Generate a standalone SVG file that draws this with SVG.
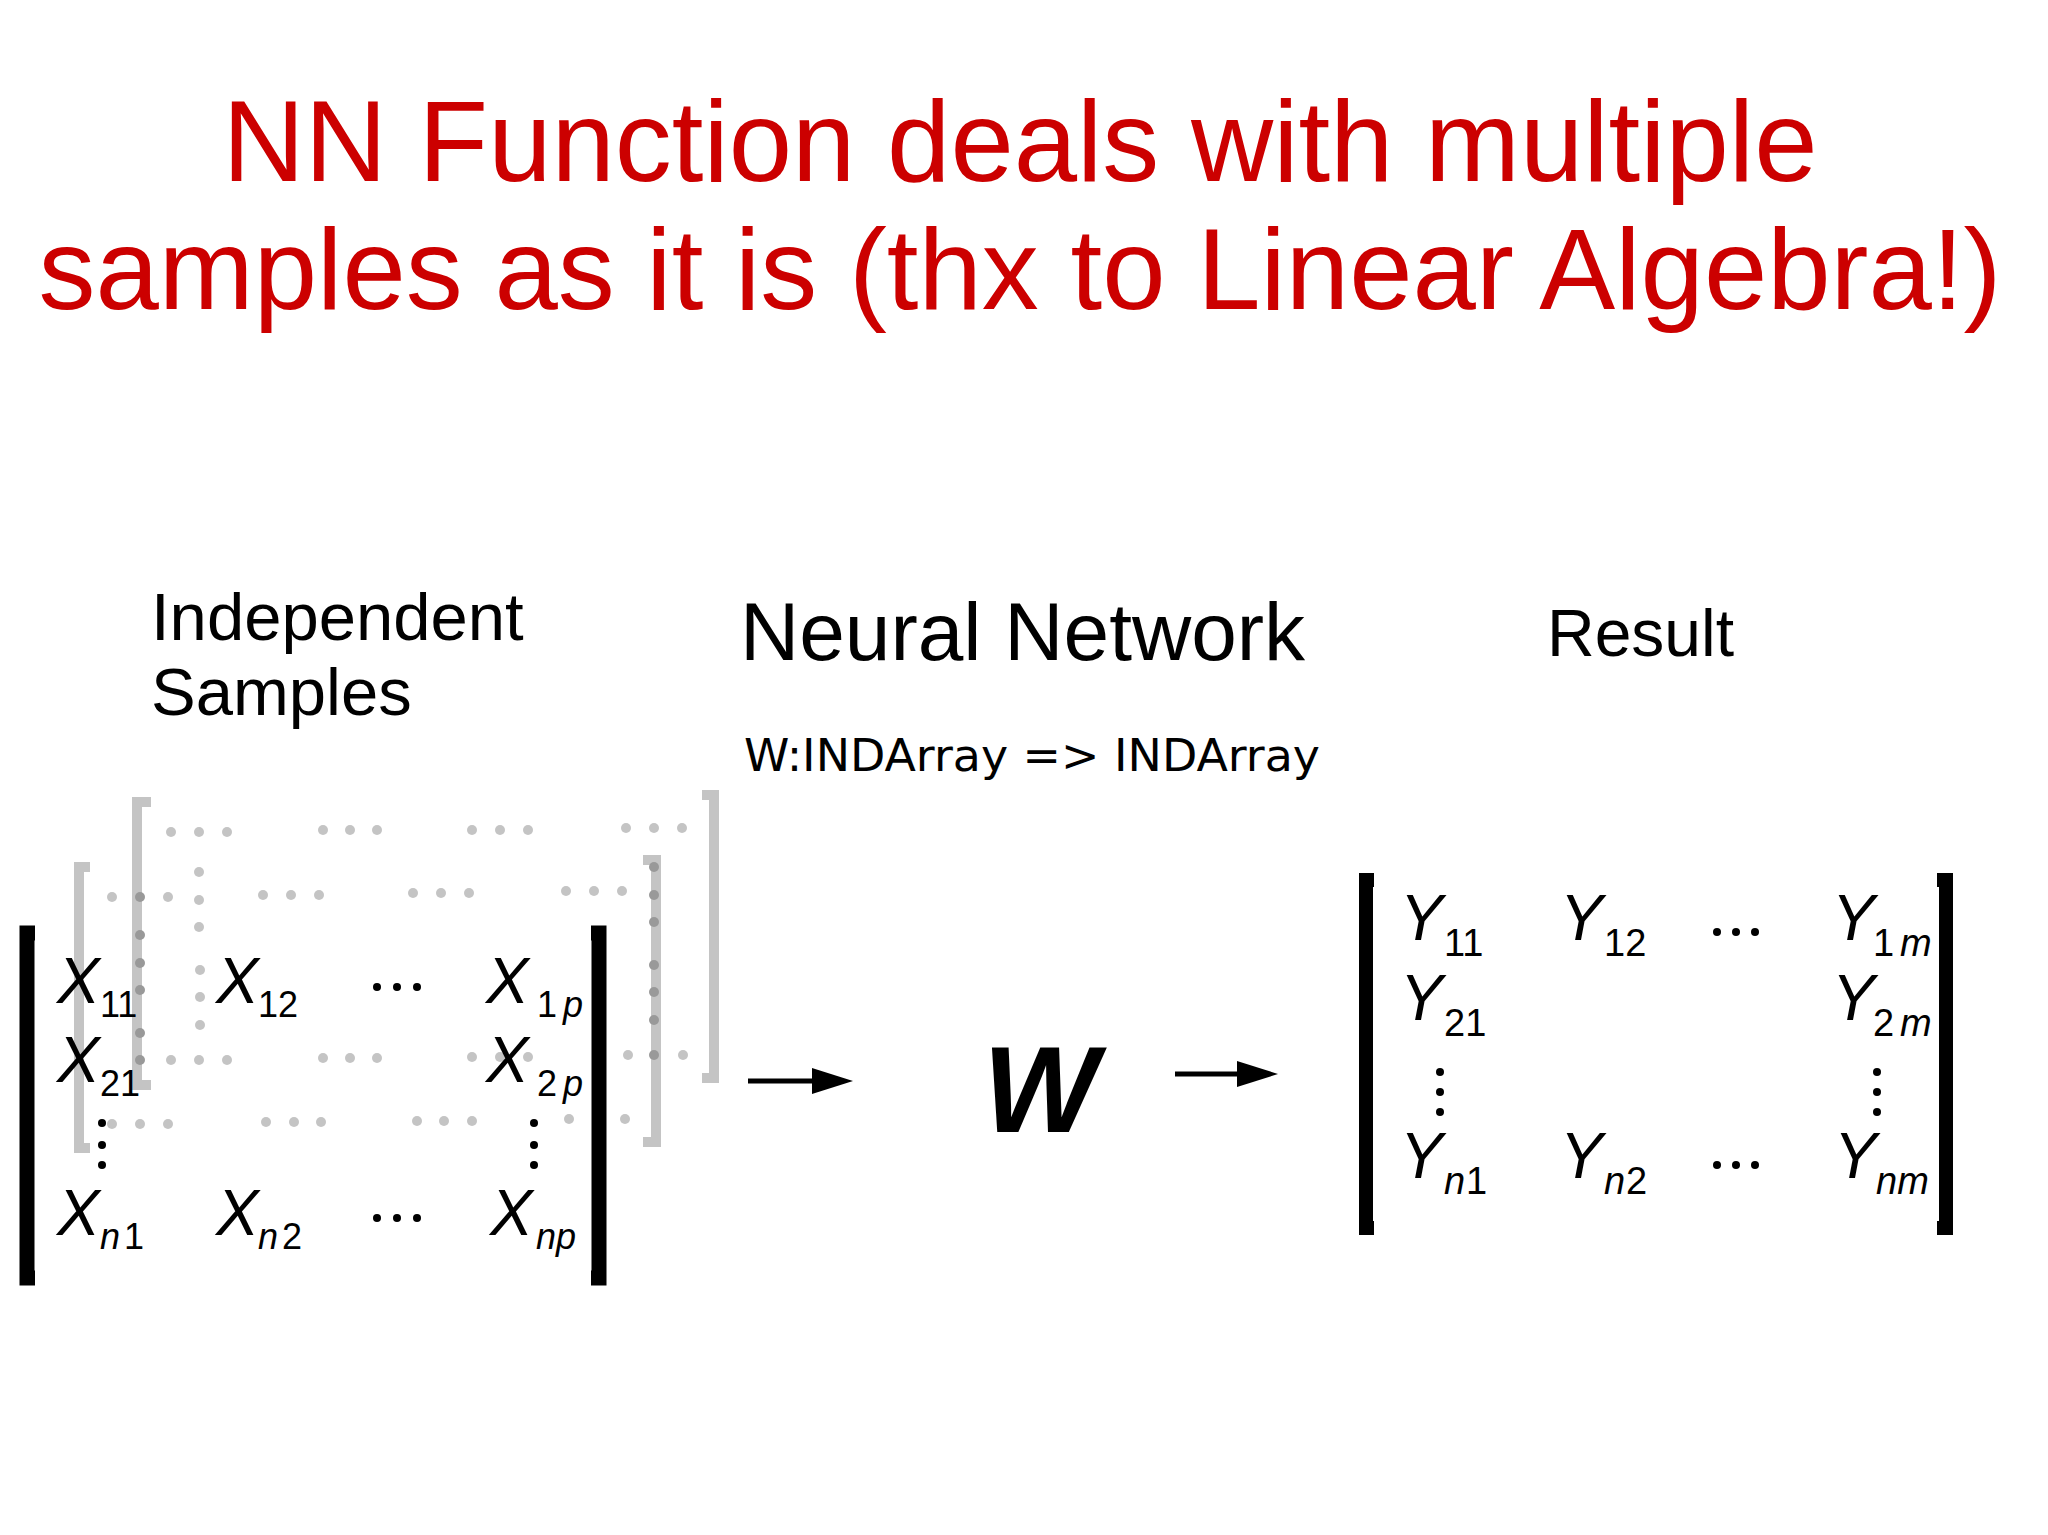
<svg xmlns="http://www.w3.org/2000/svg" width="2048" height="1535" viewBox="0 0 2048 1535">
<style>
.t{font-family:"Liberation Sans",Arial,sans-serif}
.m{font-family:"Liberation Sans",Arial,sans-serif;font-style:italic;font-size:64px}
.s{font-family:"Liberation Sans",Arial,sans-serif;font-size:36px}
.si{font-family:"Liberation Sans",Arial,sans-serif;font-size:36px;font-style:italic}
.my{font-family:"Liberation Sans",Arial,sans-serif;font-style:italic;font-size:64px}
.sy{font-family:"Liberation Sans",Arial,sans-serif;font-size:38px}
.syi{font-family:"Liberation Sans",Arial,sans-serif;font-size:38px;font-style:italic}
.g{fill:#c4c4c4}
.br{fill:none;stroke:#c4c4c4;stroke-width:10}
</style>
<rect width="2048" height="1535" fill="#fff"/>
<g id="title" class="t" fill="#cc0000" font-size="115" text-anchor="middle">
<text x="1020" y="181" textLength="1595" lengthAdjust="spacingAndGlyphs">NN Function deals with multiple</text>
<text x="1020" y="309" textLength="1963" lengthAdjust="spacingAndGlyphs">samples as it is (thx to Linear Algebra!)</text>
</g>
<g id="labels" class="t" fill="#000">
<text x="151" y="640" font-size="67">Independent</text>
<text x="151" y="715" font-size="67">Samples</text>
<text x="740" y="660" font-size="82">Neural Network</text>
<text x="1547" y="656" font-size="66">Result</text>
<text x="744" y="771" font-size="44" font-family="DejaVu Sans,sans-serif" textLength="576" lengthAdjust="spacingAndGlyphs">W:INDArray =&gt; INDArray</text>
</g>
<g id="back-matrices">
<path class="br" d="M151,802 H137 V1085 H151"/>
<path class="br" d="M702,795 H714 V1078 H702"/>
<g class="g">
<circle cx="171" cy="832" r="5"/><circle cx="199" cy="832" r="5"/><circle cx="227" cy="832" r="5"/>
<circle cx="323" cy="830" r="5"/><circle cx="350" cy="830" r="5"/><circle cx="377" cy="830" r="5"/>
<circle cx="472" cy="830" r="5"/><circle cx="500" cy="830" r="5"/><circle cx="528" cy="830" r="5"/>
<circle cx="626" cy="828" r="5"/><circle cx="654" cy="828" r="5"/><circle cx="682" cy="828" r="5"/>
<circle cx="171" cy="1060" r="5"/><circle cx="199" cy="1060" r="5"/><circle cx="227" cy="1060" r="5"/>
<circle cx="323" cy="1058" r="5"/><circle cx="350" cy="1058" r="5"/><circle cx="377" cy="1058" r="5"/>
<circle cx="472" cy="1057" r="5"/><circle cx="500" cy="1057" r="5"/><circle cx="528" cy="1057" r="5"/>
<circle cx="628" cy="1055" r="5"/><circle cx="655" cy="1055" r="5"/><circle cx="683" cy="1055" r="5"/>
<circle cx="199" cy="872" r="5"/><circle cx="199" cy="900" r="5"/><circle cx="199" cy="927" r="5"/>
<circle cx="200" cy="970" r="5"/><circle cx="200" cy="997" r="5"/><circle cx="200" cy="1025" r="5"/>
</g>
<path class="br" d="M90,867 H79 V1148 H90"/>
<path class="br" d="M643,860 H656 V1142 H643"/>
<g class="g">
<circle cx="112" cy="897" r="5"/><circle cx="168" cy="897" r="5"/>
<circle cx="263" cy="895" r="5"/><circle cx="291" cy="895" r="5"/><circle cx="319" cy="895" r="5"/>
<circle cx="413" cy="893" r="5"/><circle cx="441" cy="893" r="5"/><circle cx="469" cy="893" r="5"/>
<circle cx="566" cy="891" r="5"/><circle cx="594" cy="891" r="5"/><circle cx="622" cy="891" r="5"/>
<circle cx="112" cy="1124" r="5"/><circle cx="140" cy="1124" r="5"/><circle cx="168" cy="1124" r="5"/>
<circle cx="266" cy="1122" r="5"/><circle cx="294" cy="1122" r="5"/><circle cx="321" cy="1122" r="5"/>
<circle cx="417" cy="1121" r="5"/><circle cx="444" cy="1121" r="5"/><circle cx="472" cy="1121" r="5"/>
<circle cx="569" cy="1119" r="5"/><circle cx="597" cy="1119" r="5"/><circle cx="625" cy="1119" r="5"/>
</g>
<g fill="#999">
<circle cx="140" cy="897" r="5"/><circle cx="140" cy="935" r="5"/><circle cx="140" cy="963" r="5"/><circle cx="140" cy="990" r="5"/><circle cx="140" cy="1033" r="5"/><circle cx="140" cy="1060" r="5"/>
<circle cx="654" cy="867" r="5"/><circle cx="654" cy="895" r="5"/><circle cx="654" cy="922" r="5"/><circle cx="654" cy="965" r="5"/><circle cx="654" cy="992" r="5"/><circle cx="654" cy="1020" r="5"/><circle cx="654" cy="1055" r="5"/>
</g>
</g>
<g id="matrix-x">
<path d="M35,933 H27 V1278 H35" fill="none" stroke="#000" stroke-width="15"/>
<path d="M591,933 H599 V1278 H591" fill="none" stroke="#000" stroke-width="15"/>
<text class="m" x="57" y="1003">X</text><text class="s" x="100" y="1017">11</text>
<text class="m" x="216" y="1003">X</text><text class="s" x="258" y="1017">12</text>
<text class="m" x="486" y="1003">X</text><text class="s" x="537" y="1017">1</text><text class="si" x="563" y="1017">p</text>
<text class="m" x="57" y="1082">X</text><text class="s" x="100" y="1096">21</text>
<text class="m" x="486" y="1082">X</text><text class="s" x="537" y="1096">2</text><text class="si" x="563" y="1096">p</text>
<text class="m" x="57" y="1235">X</text><text class="si" x="100" y="1249">n</text><text class="s" x="124" y="1249">1</text>
<text class="m" x="216" y="1235">X</text><text class="si" x="258" y="1249">n</text><text class="s" x="282" y="1249">2</text>
<text class="m" x="490" y="1235">X</text><text class="si" x="536" y="1249">np</text>
<g fill="#000">
<circle cx="377" cy="987" r="4"/><circle cx="397" cy="987" r="4"/><circle cx="417" cy="987" r="4"/>
<circle cx="377" cy="1218" r="4"/><circle cx="397" cy="1218" r="4"/><circle cx="417" cy="1218" r="4"/>
<circle cx="102" cy="1123" r="4"/><circle cx="102" cy="1145" r="4"/><circle cx="102" cy="1165" r="4"/>
<circle cx="534" cy="1123" r="4"/><circle cx="534" cy="1145" r="4"/><circle cx="534" cy="1165" r="4"/>
</g>
</g>
<g id="W"><text x="983" y="1132" font-family="Liberation Sans,Arial,sans-serif" font-size="122" font-style="italic" font-weight="bold">W</text></g>
<g id="matrix-y">
<path d="M1374,880 H1366 V1228 H1374" fill="none" stroke="#000" stroke-width="14"/>
<path d="M1937,880 H1946 V1228 H1937" fill="none" stroke="#000" stroke-width="14"/>
<text class="my" x="1400" y="940">Y</text><text class="sy" x="1444" y="956">11</text>
<text class="my" x="1560" y="940">Y</text><text class="sy" x="1604" y="956">12</text>
<text class="my" x="1832" y="940">Y</text><text class="sy" x="1873" y="956">1</text><text class="syi" x="1900" y="956">m</text>
<text class="my" x="1400" y="1020">Y</text><text class="sy" x="1444" y="1036">21</text>
<text class="my" x="1832" y="1020">Y</text><text class="sy" x="1873" y="1036">2</text><text class="syi" x="1900" y="1036">m</text>
<text class="my" x="1400" y="1178">Y</text><text class="syi" x="1444" y="1194">n</text><text class="sy" x="1466" y="1194">1</text>
<text class="my" x="1560" y="1178">Y</text><text class="syi" x="1604" y="1194">n</text><text class="sy" x="1626" y="1194">2</text>
<text class="my" x="1834" y="1178">Y</text><text class="syi" x="1876" y="1194">nm</text>
<g fill="#000">
<circle cx="1717" cy="932" r="4"/><circle cx="1736" cy="932" r="4"/><circle cx="1755" cy="932" r="4"/>
<circle cx="1717" cy="1165" r="4"/><circle cx="1736" cy="1165" r="4"/><circle cx="1755" cy="1165" r="4"/>
<circle cx="1440" cy="1072" r="4"/><circle cx="1440" cy="1092" r="4"/><circle cx="1440" cy="1112" r="4"/>
<circle cx="1877" cy="1072" r="4"/><circle cx="1877" cy="1092" r="4"/><circle cx="1877" cy="1112" r="4"/>
</g>
</g>
<g id="connectors" fill="#000" stroke="#000">
<line x1="748" y1="1081" x2="820" y2="1081" stroke-width="5"/>
<polygon points="812,1068 853,1081 812,1094" stroke="none"/>
<line x1="1175" y1="1074" x2="1245" y2="1074" stroke-width="5"/>
<polygon points="1237,1061 1278,1074 1237,1087" stroke="none"/>
</g>
</svg>
